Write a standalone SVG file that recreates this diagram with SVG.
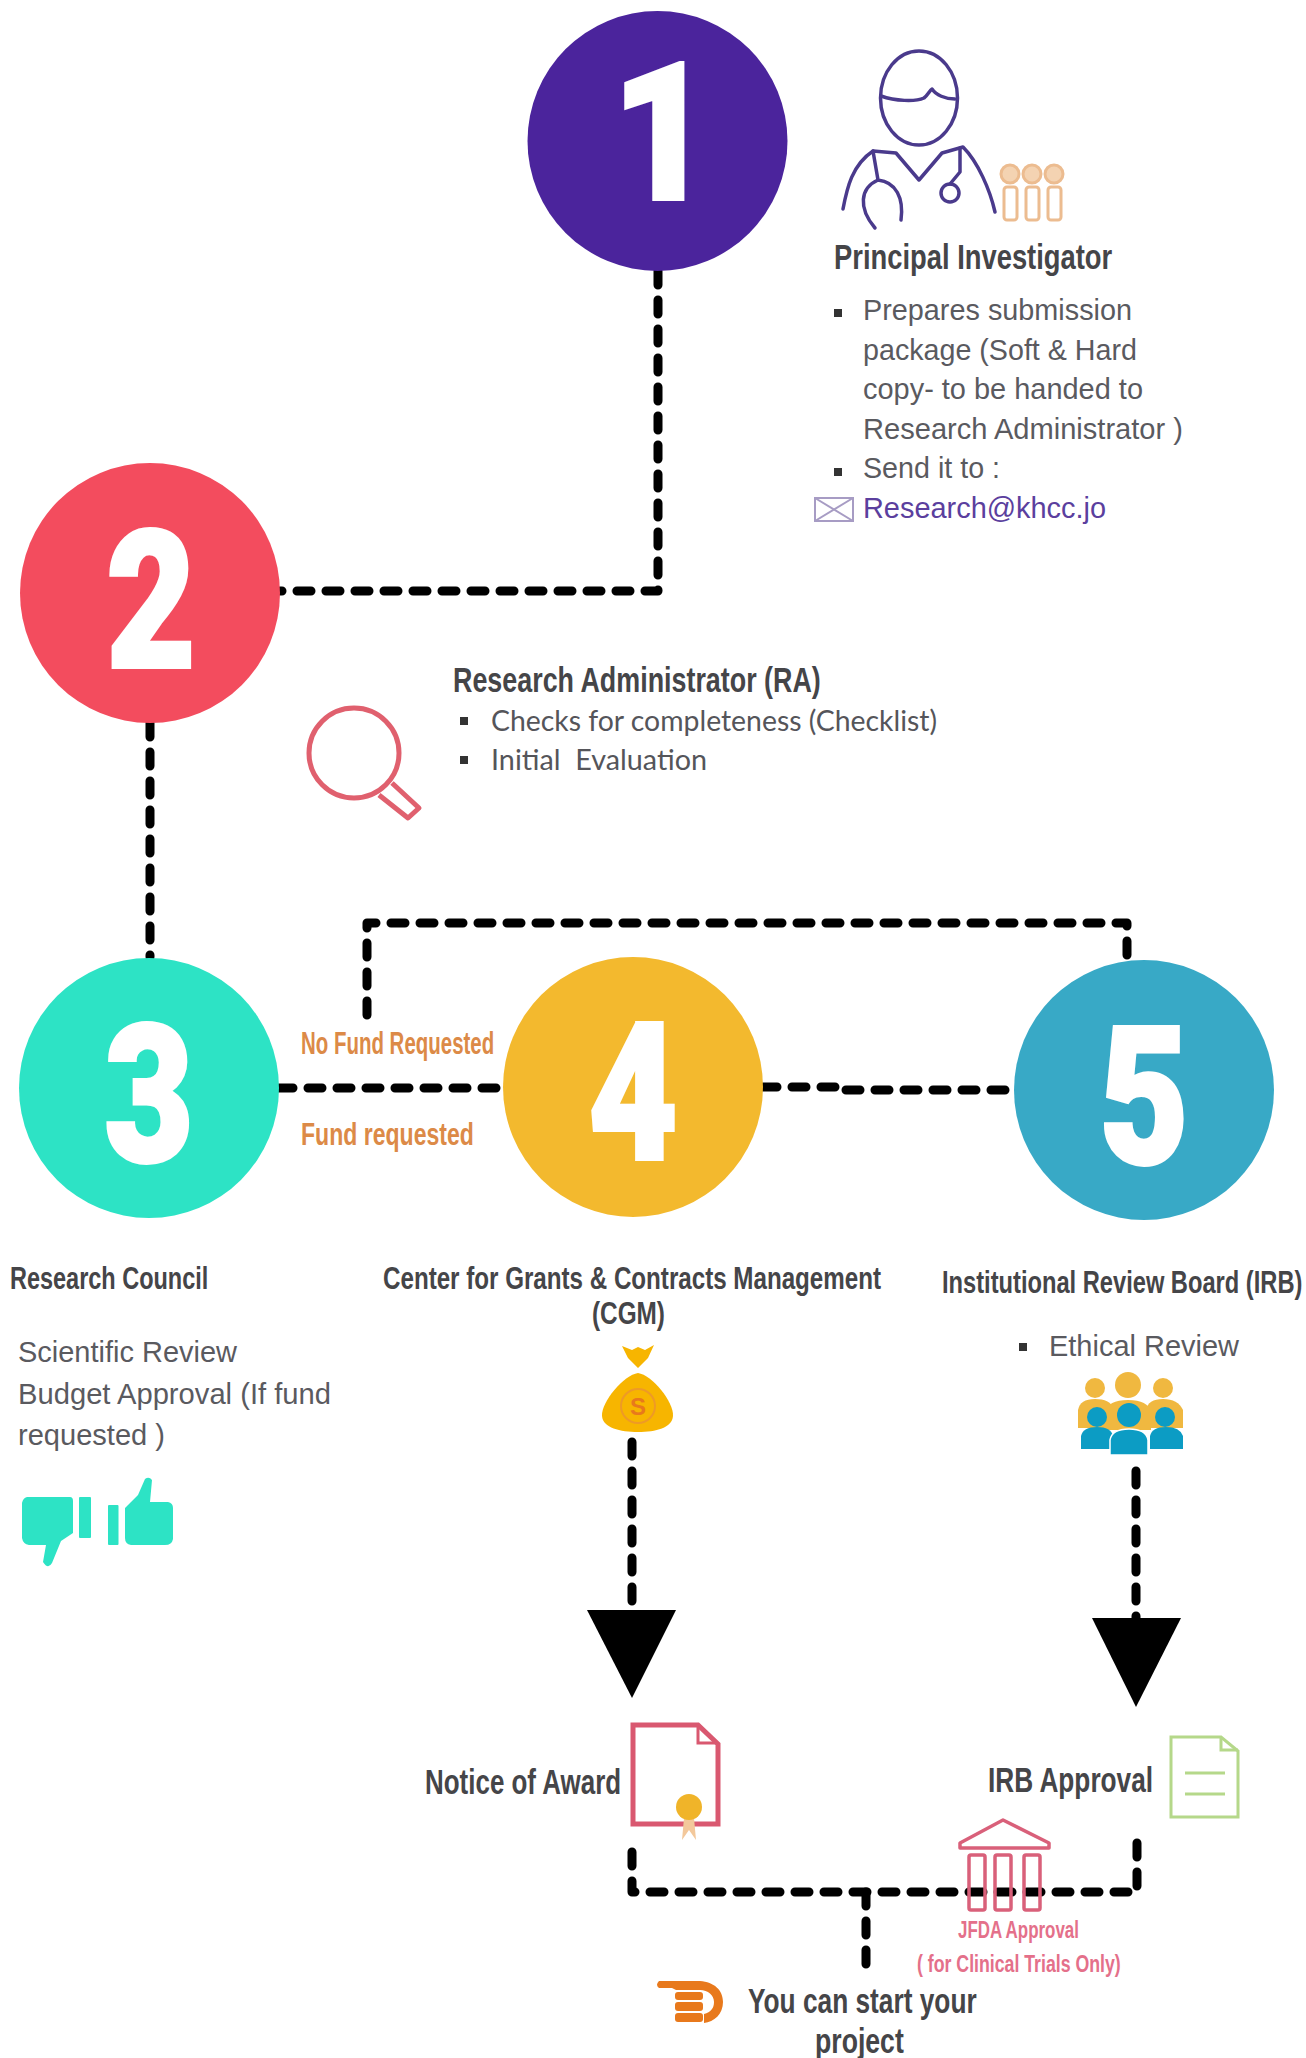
<svg xmlns="http://www.w3.org/2000/svg" width="1306" height="2058" viewBox="0 0 1306 2058">
<style>
text{font-family:"Liberation Sans",Arial,sans-serif}
.h{font-weight:bold;fill:#454548;font-size:36px}
.s{font-size:32px}
.t{font-size:35px}
.b{font-size:29px;fill:#5a5a5f}
.l{font-family:Lato,"Liberation Sans",sans-serif;font-size:28px;fill:#55555a}
.o{font-weight:bold;fill:#dc8a47;font-size:31px}
.p{font-weight:bold;fill:#e4708a;font-size:24px}
.n{font-family:Roboto,"Liberation Sans",sans-serif;font-weight:900;fill:#fff;stroke:#fff;stroke-width:4px;font-size:192px;text-anchor:middle}
.c{fill:none;stroke:#000;stroke-width:9;stroke-dasharray:14 15;stroke-linecap:round;stroke-linejoin:round}
.ln{fill:none;stroke-linecap:round;stroke-linejoin:round}
.bu{fill:#333}
</style>
<rect width="1306" height="2058" fill="#fff"/>
<g id="connectors">
<path class="c" d="M658 271V591H280"/>
<path class="c" d="M150 723V957"/>
<path class="c" d="M367 1015V923H1127V959"/>
<path class="c" d="M279 1088H503"/>
<path class="c" d="M763 1087H840M846 1090H1014"/>
<path class="c" d="M632 1442V1612"/>
<polygon points="587,1610 676,1610 632,1698"/>
<path class="c" d="M1136 1471V1620"/>
<polygon points="1092,1618 1181,1618 1136,1707"/>
<path class="c" d="M632 1852V1892H1137V1837"/>
<path class="c" d="M866 1892V1968"/>
</g>
<g id="node1">
<circle cx="657.5" cy="141" r="130" fill="#4b249c"/>
<text class="n" transform="translate(662,199) scale(.9,1)">1</text>
<g class="ln" stroke="#4a3a8c" stroke-width="3.5">
<ellipse cx="919" cy="98" rx="38.5" ry="47"/>
<path d="M881 96C895 101 915 102 924 98C928 95 930 90 932 89C936 95 945 99 955 99"/>
<path d="M843 209C847 188 852 165 873 151L896 153L919 180L942 153L963 147C978 162 990 190 995 212"/>
<path d="M873 151L878 180C860 188 858 208 875 228M878 180C896 182 904 198 901 220"/>
<path d="M960 148V172L950 184"/>
<circle cx="950" cy="193" r="9"/>
</g>
<g fill="none" stroke="#ecbc90" stroke-width="3">
<circle cx="1010" cy="174" r="9" fill="#f4d3b2"/><circle cx="1032" cy="174" r="9" fill="#f4d3b2"/><circle cx="1054" cy="174" r="9" fill="#f4d3b2"/>
<rect x="1004" y="187" width="13" height="33" rx="3"/><rect x="1026" y="187" width="13" height="33" rx="3"/><rect x="1048" y="187" width="13" height="33" rx="3"/>
</g>
<text class="h" transform="translate(834,269) scale(.74,1)" textLength="376" lengthAdjust="spacingAndGlyphs">Principal Investigator</text>
<rect class="bu" x="834" y="309" width="8" height="8"/>
<text class="b" x="863" y="320" textLength="269" lengthAdjust="spacingAndGlyphs">Prepares submission</text>
<text class="b" x="863" y="360" textLength="274" lengthAdjust="spacingAndGlyphs">package (Soft &amp; Hard</text>
<text class="b" x="863" y="399" textLength="280" lengthAdjust="spacingAndGlyphs">copy- to be handed to</text>
<text class="b" x="863" y="439" textLength="320" lengthAdjust="spacingAndGlyphs">Research Administrator )</text>
<rect class="bu" x="834" y="468" width="8" height="8"/>
<text class="b" x="863" y="478" textLength="137" lengthAdjust="spacingAndGlyphs">Send it to :</text>
<g fill="none" stroke="#a79cc4" stroke-width="2"><rect x="815" y="498" width="38" height="23"/><path d="M815 498L853 521M853 498L815 521"/></g>
<text class="b" x="863" y="518" textLength="243" lengthAdjust="spacingAndGlyphs" style="fill:#5b3f9e">Research@khcc.jo</text>
</g>
<g id="node2">
<circle cx="150" cy="593" r="130" fill="#f34c5e"/>
<text class="n" transform="translate(151,667) scale(.8,1)">2</text>
<circle cx="354" cy="753" r="45" fill="none" stroke="#e0606e" stroke-width="5"/>
<path d="M392 783L419 808L408 818L379 795" fill="none" stroke="#e0606e" stroke-width="5" stroke-linejoin="round"/>
<text class="h" transform="translate(453,692) scale(.74,1)" textLength="497" lengthAdjust="spacingAndGlyphs">Research Administrator (RA)</text>
<rect class="bu" x="460" y="717" width="8" height="8"/>
<text class="l" x="491" y="731" textLength="446" lengthAdjust="spacingAndGlyphs">Checks for completeness (Checklist)</text>
<rect class="bu" x="460" y="756" width="8" height="8"/>
<text class="l" x="491" y="770" textLength="216" lengthAdjust="spacingAndGlyphs" xml:space="preserve">Initial  Evaluation</text>
</g>
<g id="node3">
<circle cx="149" cy="1088" r="130" fill="#2de3c5"/>
<text class="n" transform="translate(149,1161) scale(.8,1)">3</text>
<text class="o" transform="translate(301,1054) scale(.7,1)" textLength="276" lengthAdjust="spacingAndGlyphs">No Fund Requested</text>
<text class="o" transform="translate(301,1145) scale(.7,1)" textLength="247" lengthAdjust="spacingAndGlyphs">Fund requested</text>
<text class="h s" transform="translate(10,1289) scale(.74,1)" textLength="268" lengthAdjust="spacingAndGlyphs">Research Council</text>
<text class="b" x="18" y="1362" textLength="219" lengthAdjust="spacingAndGlyphs">Scientific Review</text>
<text class="b" x="18" y="1404" textLength="313" lengthAdjust="spacingAndGlyphs">Budget Approval (If fund</text>
<text class="b" x="18" y="1445" textLength="147" lengthAdjust="spacingAndGlyphs">requested )</text>
<g fill="#2de3c5">
<path d="M27 1497H70Q73 1497 73 1501V1533L61 1541L52 1563Q48 1570 43 1562L46 1545H29Q23 1544 22 1538V1503Q23 1498 27 1497Z"/>
<rect x="79" y="1497" width="12" height="41" rx="1"/>
<rect x="108" y="1505" width="10.500" height="40" rx="1"/>
<path d="M125 1508L138 1495L145 1479Q149 1476 152 1480L150 1502H168Q173 1503 173 1508V1539Q172 1545 165 1545H131Q125 1544 125 1538Z"/>
</g>
</g>
<g id="node4">
<circle cx="633" cy="1087" r="130" fill="#f3b92e"/>
<text class="n" transform="translate(633,1159) scale(.8,1)">4</text>
<text class="h s" transform="translate(383,1289) scale(.74,1)" textLength="673" lengthAdjust="spacingAndGlyphs">Center for Grants &amp; Contracts Management</text>
<text class="h s" transform="translate(592,1324) scale(.74,1)" textLength="98.600" lengthAdjust="spacingAndGlyphs">(CGM)</text>
<g fill="#f7b500">
<path d="M622 1346L632 1350L638 1347L645 1350L654 1345L648 1358L638 1368L628 1358Z"/>
<path d="M638 1373C652 1375 674 1402 673 1416C672 1428 656 1432 638 1432C620 1432 603 1428 602 1416C601 1402 624 1375 638 1373Z"/>
</g>
<circle cx="638" cy="1406" r="17" fill="none" stroke="#ee9a26" stroke-width="2"/>
<text x="638" y="1415" text-anchor="middle" style="font-size:24px;fill:#e8791c;font-weight:bold">S</text>
</g>
<g id="node5">
<circle cx="1144" cy="1090" r="130" fill="#38a9c6"/>
<text class="n" transform="translate(1144,1163) scale(.8,1)">5</text>
<text class="h s" transform="translate(942,1293) scale(.74,1)" textLength="487" lengthAdjust="spacingAndGlyphs">Institutional Review Board (IRB)</text>
<rect class="bu" x="1019" y="1343" width="8" height="8"/>
<text class="b" x="1049" y="1356" textLength="190" lengthAdjust="spacingAndGlyphs">Ethical Review</text>
<g fill="#f0b840">
<circle cx="1095" cy="1388" r="10"/><circle cx="1163" cy="1388" r="10"/><circle cx="1128" cy="1385" r="13"/>
<path d="M1078 1428V1410Q1080 1399 1095 1399Q1110 1399 1113 1408V1428Z"/>
<path d="M1146 1428V1410Q1148 1399 1163 1399Q1178 1399 1183 1410V1428Z"/>
<path d="M1105 1430V1412Q1108 1400 1128 1400Q1148 1400 1151 1412V1430Z"/>
</g>
<g fill="#0c9cc4">
<path d="M1081 1449V1436Q1083 1427 1097 1427Q1111 1427 1113 1436V1449Z"/><path d="M1150 1449V1436Q1152 1427 1166 1427Q1180 1427 1183 1436V1449Z"/>
<circle cx="1097" cy="1417" r="10"/><circle cx="1165" cy="1417" r="10"/><circle cx="1129" cy="1415" r="12"/>
<path d="M1110 1455V1440Q1112 1429 1129 1429Q1146 1429 1148 1440V1455Z" stroke="#fff" stroke-width="1.500"/>
</g>
</g>
<g id="notice">
<path d="M633 1725H698L718 1744V1824H633Z" fill="none" stroke="#d95870" stroke-width="5"/>
<path d="M698 1725V1743H718" fill="none" stroke="#d95870" stroke-width="3"/>
<path d="M684 1818L682 1840L689 1830L696 1840L694 1818Z" fill="#f3c89b"/>
<circle cx="689" cy="1807" r="13" fill="#f0b429"/>
<text class="h" transform="translate(425,1794) scale(.74,1)" textLength="265" lengthAdjust="spacingAndGlyphs">Notice of Award</text>
</g>
<g id="irb">
<path d="M1171 1737H1221L1238 1751V1817H1171Z" fill="none" stroke="#b5d88a" stroke-width="3"/>
<path d="M1221 1737V1750H1238M1185 1773H1225M1185 1794H1225" fill="none" stroke="#b5d88a" stroke-width="3"/>
<text class="h" transform="translate(988,1792) scale(.74,1)" textLength="223" lengthAdjust="spacingAndGlyphs">IRB Approval</text>
</g>
<g id="jfda">
<g fill="none" stroke="#d9607a" stroke-width="3.500" stroke-linejoin="round">
<path d="M1003 1820L1049 1843V1848H960V1843Z"/>
<rect x="969" y="1855" width="16" height="55" rx="2"/><rect x="995" y="1855" width="16" height="55" rx="2"/><rect x="1024" y="1855" width="16" height="55" rx="2"/>
</g>
<text class="p" transform="translate(958,1938) scale(.72,1)" textLength="168" lengthAdjust="spacingAndGlyphs">JFDA Approval</text>
<text class="p" transform="translate(917,1972) scale(.72,1)" textLength="283" lengthAdjust="spacingAndGlyphs">( for Clinical Trials Only)</text>
</g>
<g id="start">
<g fill="#e8791c">
<path d="M659 1981H700C714 1982 723 1990 723 2002C723 2014 714 2022 704 2023V2014C711 2012 714 2008 714 2002C714 1995 708 1990 700 1990H676L672 1988H659Q655 1985 659 1981Z"/>
<rect x="675" y="1992" width="28" height="8" rx="3"/><rect x="675" y="2002" width="28" height="9" rx="3"/><rect x="675" y="2013" width="28" height="9" rx="3"/>
</g>
<text class="h t" transform="translate(748,2013) scale(.74,1)" textLength="309" lengthAdjust="spacingAndGlyphs">You can start your</text>
<text class="h t" transform="translate(815,2053) scale(.74,1)" textLength="120" lengthAdjust="spacingAndGlyphs">project</text>
</g>
</svg>
